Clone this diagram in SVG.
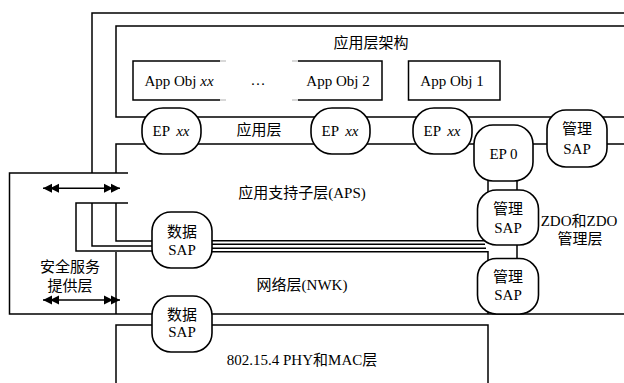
<svg xmlns="http://www.w3.org/2000/svg" width="624" height="383" viewBox="0 0 624 383">
<style>
.ln{fill:none;stroke:#000;stroke-width:1.5}
.fa{fill:none;stroke:#ccc;stroke-width:1.5}
.nd{fill:#fff;stroke:#000;stroke-width:1.6}
.bx{fill:#fff;stroke:#000;stroke-width:1.5}
text{font-family:"Liberation Serif","Noto Sans CJK SC",serif;font-size:15px;fill:#000;text-anchor:middle}
.cj{font-family:"Noto Sans CJK SC","Liberation Sans",sans-serif;font-size:15px}
.it{font-style:italic}
</style>
<defs>
<marker id="dbl" viewBox="0 -5 18 10" markerWidth="18" markerHeight="10" refX="17" refY="0" markerUnits="userSpaceOnUse" orient="auto-start-reverse">
<path d="M17,0 L8,-4.5 L8,4.5 Z M10,0 L1,-4.5 L1,4.5 Z" fill="#000"/>
</marker>
</defs>
<rect width="624" height="383" fill="#fff"/>
<g id="connectors">
<path class="ln" d="M624,13 H92 V173"/>
<path class="ln" d="M624,26 H116 V117 H624"/>
<path class="ln" d="M624,144 H116 V173"/>
<path class="ln" d="M128,173 H9.5 V314 H624"/>
<path class="ln" d="M128,203 H76 V251 H160"/>
<path class="ln" d="M92,203 V246 H160"/>
<path class="ln" d="M116,203 V241 H160"/>
<path class="ln" d="M116,252 V314"/>
<path class="ln" d="M205,240.7 H485"/>
<path class="ln" d="M205,244.2 H485"/>
<path class="ln" d="M205,248.2 H486"/>
<path class="ln" d="M205,251.8 H488 V314"/>
<path class="ln" d="M160,325 H116 V383"/>
<path class="ln" d="M205,325 H488 V383"/>
<path class="ln" d="M488,178 V192 M517,178 V192 M517,243 V260"/>
<path class="ln" d="M220,61 H133 V100 H220"/>
<path class="fa" d="M220,61 H226 M220,100 H226 M292,61 H298 M292,100 H298"/>
<path class="ln" d="M298,61 H382 V100 H298"/>
<line class="ln" x1="43" y1="188.3" x2="120" y2="188.3" marker-start="url(#dbl)" marker-end="url(#dbl)"/>
<line class="ln" x1="43" y1="300" x2="120" y2="300" marker-start="url(#dbl)" marker-end="url(#dbl)"/>
</g>
<g id="labels">
<text class="cj" x="371" y="47.5">应用层架构</text>
<text x="179" y="86">App Obj <tspan class="it">xx</tspan></text>
<text x="258" y="85">…</text>
<text x="338" y="86">App Obj 2</text>
<text class="cj" x="259" y="134.5">应用层</text>
<text x="302" y="197.5">应用支持子层(APS)</text>
<text x="302" y="290">网络层(NWK)</text>
<text x="302" y="364.5">802.15.4 PHY和MAC层</text>
<text x="579" y="226">ZDO和ZDO</text>
<text class="cj" x="580" y="244">管理层</text>
<text class="cj" x="70" y="272">安全服务</text>
<text class="cj" x="70" y="291">提供层</text>
</g>
<g id="appobj1"><rect class="bx" x="408.5" y="61" width="91.5" height="39"/><text x="452" y="86">App Obj 1</text></g>
<g id="ep1"><rect class="nd" x="142" y="108" width="59" height="46" rx="21"/><text x="171" y="136">EP <tspan class="it" dx="3">xx</tspan></text></g>
<g id="ep2"><rect class="nd" x="311" y="108" width="59" height="46" rx="21"/><text x="340" y="136">EP <tspan class="it" dx="3">xx</tspan></text></g>
<g id="ep3"><rect class="nd" x="413" y="108" width="59" height="46" rx="21"/><text x="442" y="136">EP <tspan class="it" dx="3">xx</tspan></text></g>
<g id="ep0"><rect class="nd" x="474" y="125" width="59" height="56" rx="19"/><text x="503.5" y="158.5">EP 0</text></g>
<g id="mgmt-sap-top"><rect class="nd" x="547" y="110" width="60" height="57" rx="19"/><text class="cj" x="577" y="133.5">管理</text><text x="577" y="153.5">SAP</text></g>
<g id="mgmt-sap-mid"><rect class="nd" x="477.5" y="190" width="61" height="55" rx="19"/><text class="cj" x="508" y="213.5">管理</text><text x="508" y="232.5">SAP</text></g>
<g id="mgmt-sap-low"><rect class="nd" x="477.5" y="258.5" width="61" height="55.5" rx="19"/><text class="cj" x="508" y="282">管理</text><text x="508" y="300">SAP</text></g>
<g id="data-sap-aps"><rect class="nd" x="152" y="212" width="60" height="56" rx="19"/><text class="cj" x="182" y="237">数据</text><text x="182" y="254.5">SAP</text></g>
<g id="data-sap-nwk"><rect class="nd" x="152" y="296" width="60" height="56" rx="19"/><text class="cj" x="182" y="319.5">数据</text><text x="182" y="337">SAP</text></g>
</svg>
